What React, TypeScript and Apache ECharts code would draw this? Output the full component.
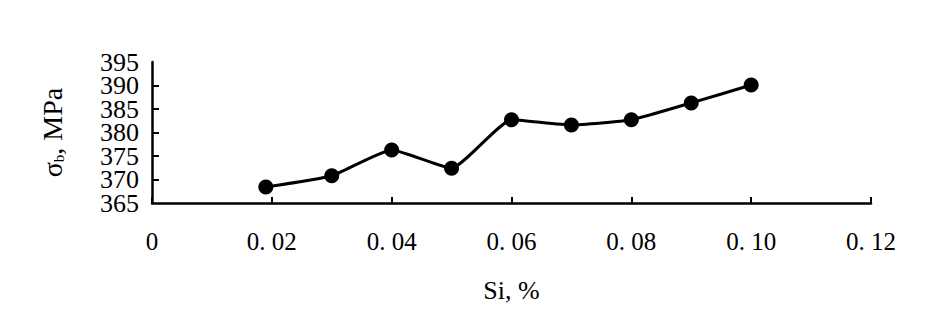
import React, { useEffect, useRef } from "react";
import * as echarts from "echarts";

const siPercent = [0.019, 0.03, 0.04, 0.05, 0.06, 0.07, 0.08, 0.09, 0.1];
const sigmaB = [368.4, 370.8, 376.3, 372.4, 382.7, 381.6, 382.7, 386.3, 390.1];
const xTickLabels = ["0", "0. 02", "0. 04", "0. 06", "0. 08", "0. 10", "0. 12"];
const yTickLabels = ["365", "370", "375", "380", "385", "390", "395"];

const FONT = "'Liberation Serif', 'Times New Roman', serif";
const yLabelStyle = {
  margin: 13,
  fontFamily: FONT,
  fontSize: 26,
  lineHeight: 20,
  color: "#000",
};

export default function App() {
  const ref = useRef<HTMLDivElement>(null);
  useEffect(() => {
    if (!ref.current) return;
    const chart = echarts.init(ref.current, null, { renderer: "svg" });
    const idx = (v: number) => Math.round((v - 365) / 5);
    chart.setOption({
      animation: false,
      backgroundColor: "#ffffff",
      grid: { left: 144, right: 57, top: 54, bottom: 119, containLabel: false },
      xAxis: {
        type: "value",
        min: 0,
        max: 0.12,
        interval: 0.02,
        name: "Si, %",
        nameLocation: "middle",
        nameGap: 74,
        nameTextStyle: { fontFamily: FONT, fontSize: 26, color: "#000" },
        axisLine: { lineStyle: { color: "#000", width: 2.5 } },
        axisTick: { show: true, inside: true, length: 6, lineStyle: { color: "#000", width: 2 } },
        axisLabel: {
          margin: 26,
          fontFamily: FONT,
          fontSize: 25,
          color: "#000",
          formatter: (v: number) => xTickLabels[Math.round(v / 0.02)] ?? "",
        },
        splitLine: { show: false },
      },
      yAxis: [
        {
          type: "value",
          min: 365,
          max: 395,
          interval: 5,
          name: "{s|σ}{b|b}{s|, MPa}",
          nameLocation: "middle",
          nameGap: 86,
          nameRotate: 90,
          nameTextStyle: {
            fontFamily: FONT,
            color: "#000",
            rich: {
              s: { fontFamily: FONT, fontSize: 28, color: "#000" },
              b: { fontFamily: FONT, fontSize: 15, color: "#000", verticalAlign: "bottom", padding: [13, 0, 0, 0] },
            },
          },
          axisLine: { show: true, lineStyle: { color: "#000", width: 2.5 } },
          axisTick: { show: true, inside: true, length: 7, lineStyle: { color: "#000", width: 2 } },
          axisLabel: {
            ...yLabelStyle,
            showMinLabel: false,
            showMaxLabel: false,
            formatter: (v: number) => {
              const i = idx(v);
              return i === 0 || i === yTickLabels.length - 1 ? "" : yTickLabels[i] ?? "";
            },
          },
          splitLine: { show: false },
        },
        {
          type: "value",
          position: "left",
          offset: 0,
          min: 365,
          max: 395,
          interval: 5,
          axisLine: { show: false },
          axisTick: { show: false },
          axisLabel: {
            ...yLabelStyle,
            showMinLabel: true,
            showMaxLabel: true,
            formatter: (v: number) => {
              const i = idx(v);
              return i === 0 || i === yTickLabels.length - 1 ? yTickLabels[i] : "";
            },
          },
          splitLine: { show: false },
        },
      ],
      series: [
        {
          type: "line",
          yAxisIndex: 0,
          data: siPercent.map((x, i) => [x, sigmaB[i]]),
          smooth: 0.15,
          symbol: "circle",
          symbolSize: 15,
          itemStyle: { color: "#000" },
          lineStyle: { color: "#000", width: 3 },
        },
      ],
    });
    return () => chart.dispose();
  }, []);
  return <div ref={ref} style={{ width: 920, height: 314 }} />;
}
